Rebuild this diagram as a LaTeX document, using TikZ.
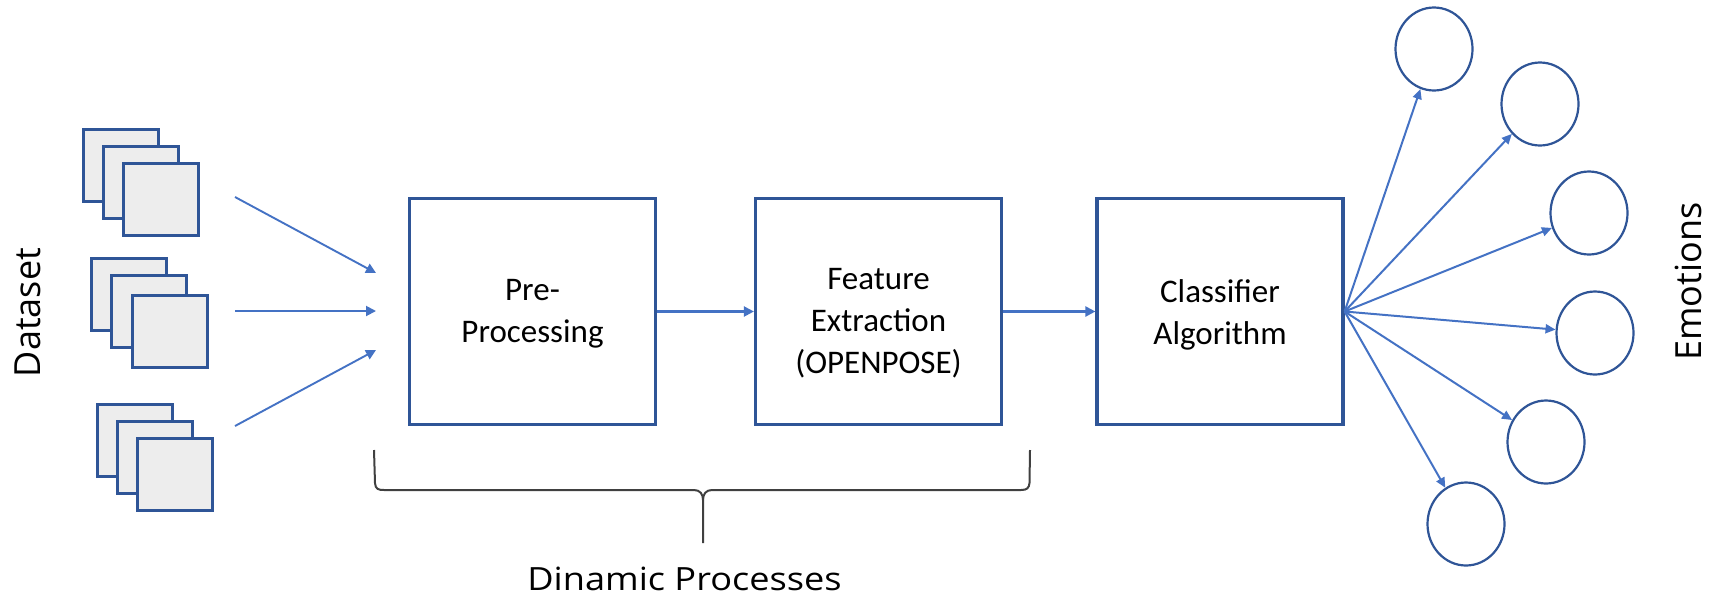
\documentclass[tikz,border=0pt]{standalone}
\usepackage{fontspec}
\setmainfont{Carlito}
\newfontfamily\labfont{Open Sans}
\usetikzlibrary{arrows.meta,shapes.geometric}
\definecolor{boxblue}{HTML}{2F5597}
\definecolor{arrblue}{HTML}{4472C4}
\definecolor{imgfill}{HTML}{EDEDED}
\begin{document}
\begin{tikzpicture}[x=1pt,y=-1pt,
  procbox/.style={draw=boxblue, line width=3.2pt, minimum width=246pt, minimum height=226pt, inner sep=0pt},
  boxtext/.style={align=center, font=\fontsize{33}{42}\selectfont, inner sep=0pt},
  imgcard/.style={draw=boxblue, fill=imgfill, line width=3pt, minimum width=75pt, minimum height=72pt, inner sep=0pt},
  emo/.style={ellipse, draw=boxblue, line width=2.2pt, minimum width=77pt, minimum height=83pt, inner sep=0pt},
  flow/.style={draw=arrblue, line width=2.2pt, -{Triangle[length=10pt,width=10pt]}},
  fan/.style={draw=arrblue, line width=2pt, -{Triangle[length=10pt,width=9pt]}},
  biglabel/.style={font=\labfont\fontsize{36}{40}\selectfont, inner sep=0pt},
  bracestyle/.style={draw=black!75, line width=2pt},
]
\useasboundingbox (0,0) rectangle (1716,598);

% image stacks
\node[imgcard] (s1a) at (121,165.5) {};
\node[imgcard] (s1b) at (141,182) {};
\node[imgcard] (s1c) at (161,199.5) {};
\node[imgcard] (s2a) at (129,294.5) {};
\node[imgcard] (s2b) at (149,311) {};
\node[imgcard] (s2c) at (169.5,331) {};
\node[imgcard] (s3a) at (135,440.5) {};
\node[imgcard] (s3b) at (155,457.5) {};
\node[imgcard] (s3c) at (175,474.5) {};

\node[biglabel, rotate=90] (dataset) at (28,312.5) {Dataset};

% input arrows
\coordinate (in1) at (235,197);
\coordinate (in2) at (235,311);
\coordinate (in3) at (235,426);
\coordinate (to1) at (376,273);
\coordinate (to2) at (376,311);
\coordinate (to3) at (376,350);
\draw[flow, line width=1.9pt] (in1) -- (to1);
\draw[flow, line width=1.9pt] (in2) -- (to2);
\draw[flow, line width=1.9pt] (in3) -- (to3);

% process boxes
\node[procbox] (b1) at (532.5,311.5) {};
\node[procbox] (b2) at (878.5,311.5) {};
\node[procbox] (b3) at (1220,311.5) {};
\node[boxtext] (b1t) at (532.5,314) {Pre-\\Processing};
\node[boxtext] (b2t) at (878.5,323) {Feature\\Extraction\\(OPENPOSE)};
\node[boxtext] (b3t) at (1220,315) {Classifier\\Algorithm};

\draw[flow] (b1) -- (b2);
\draw[flow] (b2) -- (b3);

% emotions
\node[emo] (e1) at (1434,49) {};
\node[emo] (e2) at (1540,104) {};
\node[emo] (e3) at (1589,213) {};
\node[emo] (e4) at (1595,333) {};
\node[emo] (e5) at (1546,442) {};
\node[emo] (e6) at (1466,524) {};
\foreach \e in {e1,e2,e3,e4,e5,e6}{
  \draw[fan] (b3.east) -- (\e);
}
\node[biglabel, rotate=90] (emotions) at (1688.5,281.5) {Emotions};

% brace
\draw[bracestyle] (374,450) -- (375,483) .. controls (375.5,489) and (378,490) .. (384,490)
  -- (694,490) .. controls (700,490) and (703,494) .. (703,500) -- (703,543);
\draw[bracestyle] (703,500) .. controls (703,494) and (706,490) .. (712,490)
  -- (1021,490) .. controls (1027,490) and (1029,488) .. (1029.5,483) -- (1030,450);
\node[font=\labfont\fontsize{32}{36}\selectfont, inner sep=0pt, anchor=base, xscale=1.13] (dyn) at (684.5,590) {Dinamic Processes};
\end{tikzpicture}
\end{document}
